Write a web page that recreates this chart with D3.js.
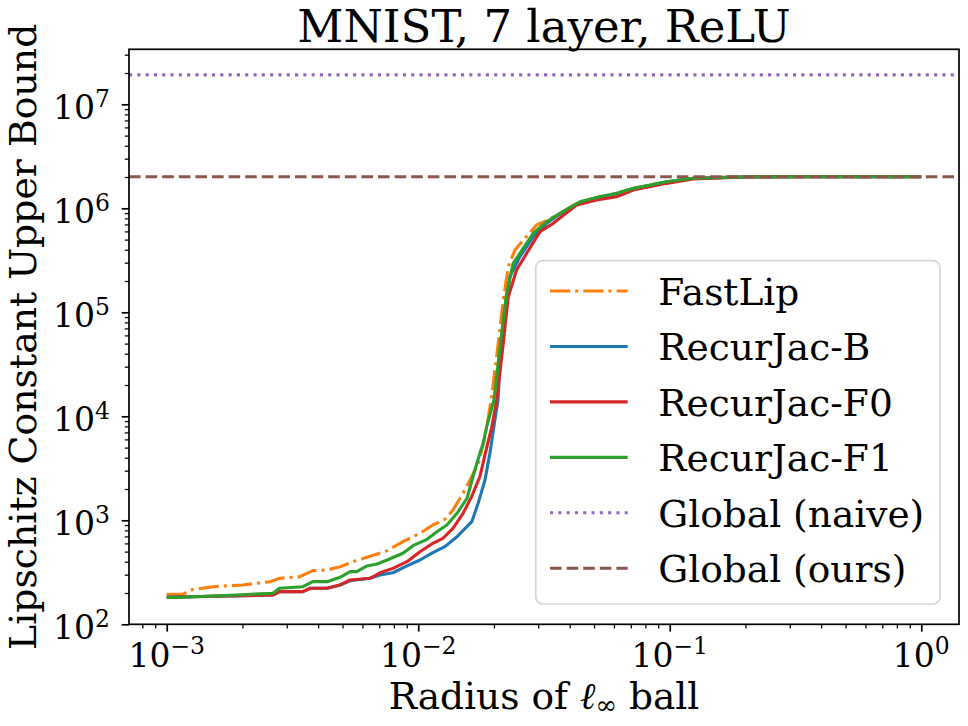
<!DOCTYPE html>
<html>
<head>
<meta charset="utf-8">
<script src="https://cdn.jsdelivr.net/npm/d3@7"></script>
<style>
  html, body { margin: 0; padding: 0; background: #fff; }
  svg { display: block; font-family: "DejaVu Serif", serif; }
</style>
</head>
<body>
<svg id="chart" width="968" height="726"></svg>
<script>
// ---------------- data ----------------
const title = "MNIST, 7 layer, ReLU";
const yLabel = "Lipschitz Constant Upper Bound";
const seriesNames = ["FastLip", "RecurJac-B", "RecurJac-F0", "RecurJac-F1", "Global (naive)", "Global (ours)"];

const fastlipX = [0.001,0.00116,0.00124,0.00153,0.00201,0.00258,0.00281,0.00338,0.00381,0.00434,0.00489,0.0055,0.00625,0.00752,0.00869,0.01016,0.01143,0.01276,0.01374,0.01507,0.01607,0.01733,0.0183,0.01892,0.0195,0.0205,0.02178,0.0228,0.02423,0.02655,0.02955,0.0324,0.03658,0.04393,0.05275,0.06146,0.07161,0.09711,0.1239,0.2,0.3,1];
const fastlipY = [194,194,214,230,239,257,277,287,328,333,358,400,441,510,623,750,901,1023,1256,1820,2443,3532,5916,9211,14350,37420,131300,274300,397000,514800,690800,760000,895000,1157000,1292000,1393000,1555000,1802000,1943000,2005000,2013000,2013000];

const recurBX = [0.001,0.00264,0.00281,0.00348,0.00372,0.00434,0.00489,0.00536,0.00643,0.00705,0.00793,0.00902,0.01016,0.01143,0.01276,0.01426,0.01633,0.0173,0.01842,0.01927,0.02017,0.02075,0.02113,0.02213,0.02314,0.02536,0.02865,0.0324,0.03658,0.04393,0.05275,0.06146,0.07161,0.09711,0.1239,0.2,0.3,1];
const recurBY = [182,191,206,206,222,222,239,262,277,298,313,364,415,488,558,695,970,1455,2443,4406,9211,14350,30000,105200,219800,342700,533400,717300,880000,1140000,1280000,1380000,1540000,1790000,1940000,2005000,2013000,2013000];

const recurF0X = [0.001,0.00264,0.00281,0.00348,0.00372,0.00434,0.00489,0.00536,0.00643,0.00705,0.00793,0.00902,0.01016,0.01143,0.01253,0.01374,0.01507,0.0163,0.01758,0.01871,0.01963,0.0205,0.02178,0.0228,0.0246,0.02696,0.03048,0.03441,0.04262,0.05121,0.06146,0.07161,0.09711,0.1239,0.2,0.3,1];
const recurF0Y = [182,191,206,206,222,222,239,267,277,313,345,400,499,601,671,837,1168,1688,2624,5000,7946,14350,50330,141200,255100,369000,596100,717300,1076000,1202000,1292000,1497000,1738000,1920000,2000000,2013000,2013000];

const recurF1X = [0.001,0.00113,0.00163,0.00264,0.00281,0.00348,0.00381,0.00434,0.00489,0.00536,0.0057,0.00625,0.00686,0.00752,0.00869,0.00953,0.01084,0.01186,0.013,0.01426,0.01563,0.0165,0.01758,0.01812,0.01871,0.02,0.02145,0.02246,0.02385,0.02614,0.02865,0.0324,0.03658,0.04393,0.05275,0.06146,0.07161,0.09711,0.1239,0.2,0.3,1];
const recurF1Y = [182,182,188,199,222,230,257,257,283,321,321,364,380,415,482,570,656,777,901,1168,1629,2624,4406,5500,7946,14350,62800,152300,295700,412200,575300,743200,895000,1157000,1292000,1393000,1555000,1802000,1943000,2005000,2013000,2013000];

const globalNaive = 19200000;
const globalOurs = 2013000;

const xTickValues = [1e-3, 1e-2, 1e-1, 1];
const xTickExponents = ["−3", "−2", "−1", "0"];
const yTickValues = [1e2, 1e3, 1e4, 1e5, 1e6, 1e7];
const yTickExponents = ["2", "3", "4", "5", "6", "7"];

const colors = ["#ff7f0e", "#1f77b4", "#d62728", "#2ca02c", "#9467bd", "#8c564b"];
const dashes = ["20.2,5,3.1,5", null, null, null, "3.1,5.2", "11.6,5"];

// ---------------- layout ----------------
const svg = d3.select("#chart");
const L = 129, R = 959, T = 49.3, B = 624.3;

const x = d3.scaleLog().domain([Math.pow(10, -3.15), Math.pow(10, 0.15)]).range([L, R]);
const y = d3.scaleLog().domain([100, Math.pow(10, 7.529)]).range([B, T]);

const series = [
  {xs: fastlipX, ys: fastlipY},
  {xs: recurBX, ys: recurBY},
  {xs: recurF0X, ys: recurF0Y},
  {xs: recurF1X, ys: recurF1Y}
];

svg.append("defs").append("clipPath").attr("id", "clip")
  .append("rect").attr("x", L).attr("y", T).attr("width", R - L).attr("height", B - T);

const plot = svg.append("g").attr("clip-path", "url(#clip)");
const line = d3.line().x(d => x(d[0])).y(d => y(d[1]));

series.forEach((s, i) => {
  const pts = s.xs.map((v, k) => [v, s.ys[k]]);
  plot.append("path")
    .attr("d", line(pts))
    .attr("fill", "none")
    .attr("stroke", colors[i])
    .attr("stroke-width", 3.1)
    .attr("stroke-linejoin", "round")
    .attr("stroke-dasharray", dashes[i]);
});

[globalNaive, globalOurs].forEach((v, j) => {
  const i = 4 + j;
  plot.append("path")
    .attr("d", line([[x.domain()[0], v], [x.domain()[1], v]]))
    .attr("fill", "none")
    .attr("stroke", colors[i])
    .attr("stroke-width", 3.1)
    .attr("stroke-dasharray", dashes[i]);
});

// ---------------- axes ----------------
function minorTicks(scale) {
  const [a, b] = scale.domain();
  const out = [];
  for (let e = Math.floor(Math.log10(a)); e <= Math.ceil(Math.log10(b)); e++) {
    for (let m = 2; m <= 9; m++) {
      const v = m * Math.pow(10, e);
      if (v >= a && v <= b) out.push(v);
    }
  }
  return out;
}

const xMajor = d3.axisBottom(x).tickValues(xTickValues).tickSize(7.3).tickFormat("");
const xMinor = d3.axisBottom(x).tickValues(minorTicks(x)).tickSize(4.2).tickFormat("");
const yMajor = d3.axisLeft(y).tickValues(yTickValues).tickSize(7.3).tickFormat("");
const yMinor = d3.axisLeft(y).tickValues(minorTicks(y)).tickSize(4.2).tickFormat("");

function styleAxis(g, w) {
  g.select(".domain").remove();
  g.selectAll(".tick line").attr("stroke", "#000").attr("stroke-width", w);
}
svg.append("g").attr("transform", `translate(0,${B})`).call(xMinor).call(g => styleAxis(g, 1.25));
svg.append("g").attr("transform", `translate(0,${B})`).call(xMajor).call(g => styleAxis(g, 1.7));
svg.append("g").attr("transform", `translate(${L},0)`).call(yMinor).call(g => styleAxis(g, 1.25));
svg.append("g").attr("transform", `translate(${L},0)`).call(yMajor).call(g => styleAxis(g, 1.7));

// tick labels
xTickValues.forEach((v, i) => {
  const t = svg.append("text")
    .attr("x", x(v)).attr("y", 666.7)
    .attr("text-anchor", "middle")
    .attr("font-size", 33).attr("fill", "#000");
  t.append("tspan").text("10");
  t.append("tspan").attr("dy", -12.3).attr("font-size", 23.5).text(xTickExponents[i]);
});
yTickValues.forEach((v, i) => {
  const t = svg.append("text")
    .attr("x", 110).attr("y", y(v) + 14.7)
    .attr("text-anchor", "end")
    .attr("font-size", 33).attr("fill", "#000");
  t.append("tspan").text("10");
  t.append("tspan").attr("dy", -12.3).attr("font-size", 23.5).text(yTickExponents[i]);
});

// spines
svg.append("rect").attr("x", L).attr("y", T).attr("width", R - L).attr("height", B - T)
  .attr("fill", "none").attr("stroke", "#000").attr("stroke-width", 1.7);

// title
svg.append("text").attr("x", (L + R) / 2).attr("y", 42)
  .attr("text-anchor", "middle").attr("font-size", 45).attr("fill", "#000").text(title);

// x label
const xl = svg.append("text").attr("x", (L + R) / 2).attr("y", 708.5)
  .attr("text-anchor", "middle").attr("font-size", 37.5).attr("fill", "#000");
xl.append("tspan").text("Radius of ");
xl.append("tspan").attr("font-style", "italic").text("ℓ");
xl.append("tspan").attr("dy", 5.5).attr("font-size", 26).text("∞");
xl.append("tspan").attr("dy", -5.5).text(" ball");

// y label
svg.append("text").attr("transform", `translate(35.5,${(T + B) / 2}) rotate(-90)`)
  .attr("text-anchor", "middle").attr("font-size", 37.8).attr("fill", "#000").text(yLabel);

// ---------------- legend ----------------
const lg = svg.append("g");
lg.append("rect").attr("x", 535.7).attr("y", 260.7).attr("width", 404.3).attr("height", 343.3)
  .attr("rx", 7).attr("ry", 7)
  .attr("fill", "#fff").attr("fill-opacity", 0.8)
  .attr("stroke", "#d6d6d6").attr("stroke-width", 1.7);
seriesNames.forEach((name, i) => {
  const ry = 291 + i * 55.45;
  lg.append("line").attr("x1", 550).attr("x2", 627.7).attr("y1", ry).attr("y2", ry)
    .attr("stroke", colors[i]).attr("stroke-width", 3.1)
    .attr("stroke-dasharray", dashes[i]);
  lg.append("text").attr("x", 658.3).attr("y", ry + 14)
    .attr("font-size", 37.5).attr("fill", "#000").text(name);
});
</script>
</body>
</html>
